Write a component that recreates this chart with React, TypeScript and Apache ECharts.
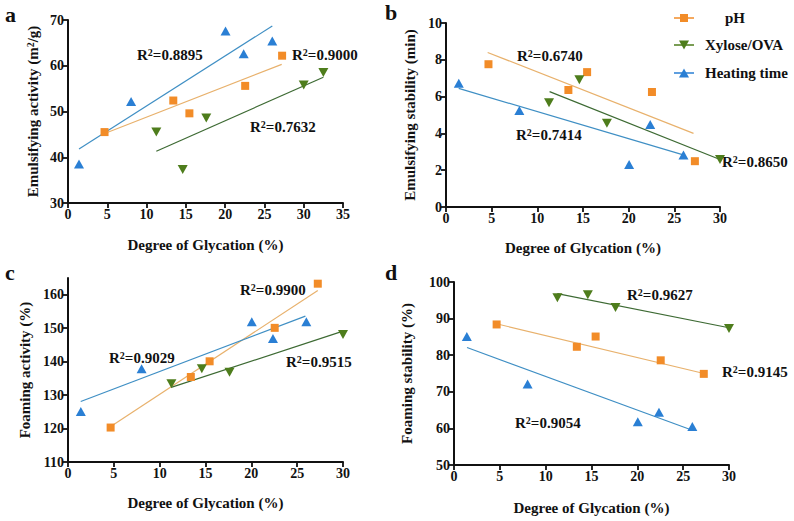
import React, { useEffect, useRef } from 'react';
import * as echarts from 'echarts';

const FONT = 'Liberation Serif';
const INK = '#111111';

const C_PH = '#F28C28';
const C_XY = '#4E7D1C';
const C_HT = '#2A7FD4';
const L_PH = '#E8B16C';
const L_XY = '#3D6A33';
const L_HT = '#3F8FC4';

// Degree of glycation (x) for each factor
const phDG = [4.65, 13.4, 15.45, 22.55, 27.25];
const xyDG5 = [11.24, 14.6, 17.6, 30.0, 32.5];
const xyDG = [11.28, 14.6, 17.62, 30.0];
const htDG = [1.4, 8.03, 20.05, 22.36, 26.0];

// Panel a: Emulsifying activity
const aPH = [45.5, 52.4, 49.6, 55.6, 62.2];
const aXY = [45.5, 37.3, 48.6, 55.8, 58.5];
const aHT = [38.5, 52.2, 67.6, 62.6, 65.4];
const aFitPhX = [4.67, 27.2];
const aFitPhY = [45.2, 60.3];
const aFitXyX = [11.24, 32.5];
const aFitXyY = [41.3, 57.5];
const aFitHtX = [1.4, 26.0];
const aFitHtY = [41.8, 68.7];

// Panel b: Emulsifying stability
const bPH = [7.76, 6.36, 7.33, 6.25, 2.49];
const bXY = [5.67, 6.91, 4.55, 2.58];
const bHT = [6.73, 5.24, 2.31, 4.49, 2.82];
const bFitPhX = [4.56, 27.1];
const bFitPhY = [8.4, 4.0];
const bFitXyX = [11.34, 30.0];
const bFitXyY = [6.27, 2.58];
const bFitHtX = [1.39, 26.07];
const bFitHtY = [6.45, 2.82];

// Panel c: Foaming activity
const cPH = [120.3, 135.4, 140.1, 150.1, 163.3];
const cXY = [133.4, 137.9, 136.8, 148.1];
const cHT = [125.1, 137.9, 151.9, 146.9, 151.9];
const cFitPhX = [4.62, 27.25];
const cFitPhY = [120.5, 161.3];
const cFitXyX = [11.26, 30.0];
const cFitXyY = [132.3, 149.1];
const cFitHtX = [1.39, 25.9];
const cFitHtY = [128.1, 153.6];

// Panel d: Foaming stability
const dPH = [88.4, 82.3, 85.1, 78.6, 74.9];
const dXY = [95.7, 96.5, 93.0, 87.3];
const dHT = [85.1, 72.1, 61.8, 64.4, 60.5];
const dFitPhX = [4.62, 27.27];
const dFitPhY = [88.6, 75.0];
const dFitXyX = [11.27, 30.0];
const dFitXyY = [96.8, 87.5];
const dFitHtX = [1.42, 26.0];
const dFitHtY = [82.1, 59.5];

const legendNames = ['pH', 'Xylose/OVA', 'Heating time'];
const xTitle = 'Degree of Glycation (%)';
const yTitles = [
  'Emulsifying activity (m{s|2}/g)',
  'Emulsifying stability (min)',
  'Foaming activity (%)',
  'Foaming stability (%)',
];
const r2Labels = [
  ['0.8895', '0.9000', '0.7632'],
  ['0.6740', '0.7414', '0.8650'],
  ['0.9900', '0.9029', '0.9515'],
  ['0.9627', '0.9145', '0.9054'],
];
const panelLetters = ['a', 'b', 'c', 'd'];

const zip = (xs: number[], ys: number[]) => xs.map((x, i) => [x, ys[i]]);

const supRich = {
  s: { fontFamily: FONT, fontWeight: 'bold', fontSize: 10, verticalAlign: 'top', color: INK, lineHeight: 15 },
};

function App() {
  const ref = useRef<HTMLDivElement>(null);
  useEffect(() => {
    if (!ref.current) return;
    const chart = echarts.init(ref.current, null, { renderer: 'svg' });

    const grids = [
      { left: 68, top: 20, width: 275, height: 183 },
      { left: 446, top: 23, width: 274, height: 184 },
      { left: 68, top: 278, width: 275, height: 184 },
      { left: 454, top: 282, width: 275, height: 183 },
    ];
    const xRanges = [
      [0, 35],
      [0, 30],
      [0, 30],
      [0, 30],
    ];
    const yRanges = [
      [30, 70, 10],
      [0, 10, 2],
      [110, 165, 10],
      [50, 100, 10],
    ];
    const xGaps = [34, 33, 33, 35];
    const yGaps = [28, 29, 36, 40];

    const axisCommon = {
      axisLine: { show: true, onZero: false, lineStyle: { color: INK, width: 2 } },
      axisTick: { show: true, inside: false, length: 5, lineStyle: { color: INK, width: 1.8 } },
      splitLine: { show: false },
      axisLabel: { color: INK, fontFamily: FONT, fontWeight: 'bold', fontSize: 14, margin: 4 },
      nameTextStyle: { color: INK, fontFamily: FONT, fontWeight: 'bold', fontSize: 15, rich: supRich },
    };

    const xAxis = grids.map((_, i) => ({
      ...axisCommon,
      type: 'value',
      gridIndex: i,
      min: xRanges[i][0],
      max: xRanges[i][1],
      interval: 5,
      name: xTitle,
      nameLocation: 'middle',
      nameGap: xGaps[i],
    }));

    const yAxis = grids.map((_, i) => {
      const [mn, mx, iv] = yRanges[i];
      const ticks: number[] = [];
      for (let v = mn; v <= mx + 1e-9; v += iv) ticks.push(v);
      return {
        ...axisCommon,
        type: 'value',
        gridIndex: i,
        min: mn,
        max: mx,
        interval: iv,
        name: yTitles[i],
        nameLocation: 'middle',
        nameGap: yGaps[i],
        axisTick: { ...axisCommon.axisTick, customValues: ticks },
        axisLabel: {
          ...axisCommon.axisLabel,
          customValues: ticks,
          formatter: (v: number) => (ticks.some((t) => Math.abs(t - v) < 1e-9) ? String(v) : ''),
        },
      };
    });

    const fitLine = (i: number, xs: number[], ys: number[], color: string) => ({
      type: 'line',
      xAxisIndex: i,
      yAxisIndex: i,
      data: zip(xs, ys),
      symbol: 'none',
      showSymbol: false,
      lineStyle: { color, width: 1.2 },
      z: 1,
      silent: true,
    });
    const scatter = (i: number, name: string, xs: number[], ys: number[], kind: string) => {
      const color = kind === 'ph' ? C_PH : kind === 'xy' ? C_XY : C_HT;
      return {
        type: 'scatter',
        name,
        xAxisIndex: i,
        yAxisIndex: i,
        data: zip(xs, ys),
        symbol: kind === 'ph' ? 'rect' : 'triangle',
        symbolRotate: kind === 'xy' ? 180 : 0,
        symbolSize: kind === 'ph' ? 8 : [10, 9],
        itemStyle: { color, opacity: 1 },
        z: 3,
      };
    };

    const panels = [
      { ph: aPH, xy: aXY, ht: aHT, xyx: xyDG5, fit: [aFitPhX, aFitPhY, aFitXyX, aFitXyY, aFitHtX, aFitHtY] },
      { ph: bPH, xy: bXY, ht: bHT, xyx: xyDG, fit: [bFitPhX, bFitPhY, bFitXyX, bFitXyY, bFitHtX, bFitHtY] },
      { ph: cPH, xy: cXY, ht: cHT, xyx: xyDG, fit: [cFitPhX, cFitPhY, cFitXyX, cFitXyY, cFitHtX, cFitHtY] },
      { ph: dPH, xy: dXY, ht: dHT, xyx: xyDG, fit: [dFitPhX, dFitPhY, dFitXyX, dFitXyY, dFitHtX, dFitHtY] },
    ];

    const series: any[] = [];
    panels.forEach((p, i) => {
      series.push(fitLine(i, p.fit[0], p.fit[1], L_PH));
      series.push(fitLine(i, p.fit[2], p.fit[3], L_XY));
      series.push(fitLine(i, p.fit[4], p.fit[5], L_HT));
      series.push(scatter(i, legendNames[0], phDG, p.ph, 'ph'));
      series.push(scatter(i, legendNames[1], p.xyx, p.xy, 'xy'));
      series.push(scatter(i, legendNames[2], htDG, p.ht, 'ht'));
    });

    // R² label placements (left x, middle y)
    const r2Pos = [
      [[137, 55], [292, 55], [250, 127]],
      [[517, 56], [516, 135], [722, 162]],
      [[240, 290], [109, 358], [286, 362]],
      [[627, 295], [722, 372], [515, 423]],
    ];
    const graphic: any[] = [];
    r2Labels.forEach((row, pi) => {
      row.forEach((val, k) => {
        graphic.push({
          type: 'text',
          x: r2Pos[pi][k][0],
          y: r2Pos[pi][k][1],
          style: {
            text: 'R{s|2}=' + val,
            fill: INK,
            fontFamily: FONT,
            fontWeight: 'bold',
            fontSize: 15,
            verticalAlign: 'middle',
            align: 'left',
            rich: supRich,
          },
        });
      });
    });

    const letterPos = [
      [5, 14],
      [385, 12],
      [5, 272],
      [385, 272],
    ];
    panelLetters.forEach((l, i) => {
      graphic.push({
        type: 'text',
        x: letterPos[i][0],
        y: letterPos[i][1],
        style: { text: l, fill: INK, fontFamily: FONT, fontWeight: 'bold', fontSize: 22, verticalAlign: 'middle' },
      });
    });

    // Legend
    const legRows = [18, 45, 73];
    const legTextX = [725, 705, 705];
    const legColors = [C_PH, C_XY, C_HT];
    legendNames.forEach((n, i) => {
      const y = legRows[i];
      const cx = 684;
      graphic.push({
        type: 'line',
        shape: { x1: 674, y1: y, x2: 694, y2: y },
        style: { stroke: legColors[i], lineWidth: 1.5 },
      });
      if (i === 0) {
        graphic.push({ type: 'rect', shape: { x: cx - 4, y: y - 4, width: 8, height: 8 }, style: { fill: C_PH } });
      } else if (i === 1) {
        graphic.push({
          type: 'polygon',
          shape: { points: [[cx - 5, y - 4.5], [cx + 5, y - 4.5], [cx, y + 4.5]] },
          style: { fill: C_XY },
        });
      } else {
        graphic.push({
          type: 'polygon',
          shape: { points: [[cx - 5, y + 4.5], [cx + 5, y + 4.5], [cx, y - 4.5]] },
          style: { fill: C_HT },
        });
      }
      graphic.push({
        type: 'text',
        x: legTextX[i],
        y,
        style: { text: n, fill: INK, fontFamily: FONT, fontWeight: 'bold', fontSize: 15, verticalAlign: 'middle' },
      });
    });

    chart.setOption({
      animation: false,
      backgroundColor: '#ffffff',
      grid: grids,
      xAxis,
      yAxis,
      series,
      graphic,
    } as any);

    return () => chart.dispose();
  }, []);

  return <div ref={ref} style={{ position: 'fixed', left: 0, top: 0, width: 794, height: 521 }} />;
}

export default App;
